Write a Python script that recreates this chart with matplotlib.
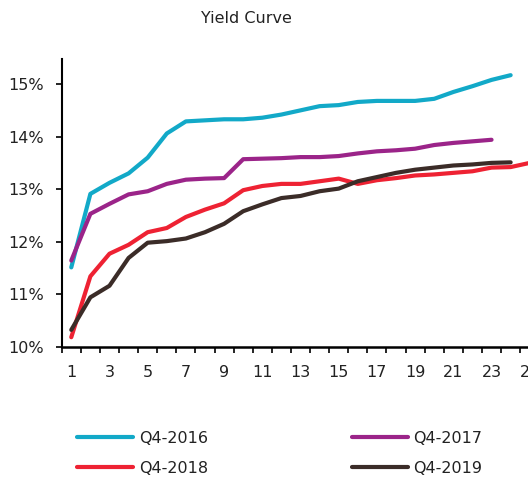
import matplotlib
import matplotlib.pyplot as plt
from matplotlib.ticker import FixedLocator, FuncFormatter

matplotlib.use("Agg")

# values (percent)
q4_2016 = [11.51, 12.91, 13.12, 13.30, 13.60, 14.06, 14.29, 14.31, 14.33, 14.33,
           14.36, 14.42, 14.50, 14.58, 14.60, 14.66, 14.68, 14.68, 14.68, 14.72,
           14.85, 14.96, 15.08, 15.17]
q4_2017 = [11.64, 12.53, 12.72, 12.90, 12.96, 13.10, 13.18, 13.20, 13.21, 13.57,
           13.58, 13.59, 13.61, 13.61, 13.63, 13.68, 13.72, 13.74, 13.77, 13.84,
           13.88, 13.91, 13.94]
q4_2018 = [10.18, 11.34, 11.77, 11.94, 12.18, 12.26, 12.47, 12.61, 12.73, 12.98,
           13.06, 13.10, 13.10, 13.15, 13.20, 13.10, 13.17, 13.21, 13.26, 13.28,
           13.31, 13.34, 13.41, 13.42, 13.50]
q4_2019 = [10.32, 10.94, 11.16, 11.69, 11.98, 12.01, 12.06, 12.18, 12.34, 12.58,
           12.71, 12.83, 12.87, 12.96, 13.01, 13.15, 13.23, 13.31, 13.37, 13.41,
           13.45, 13.47, 13.50, 13.51]

series = [
    ("Q4-2016", q4_2016, "#12A9C8"),
    ("Q4-2017", q4_2017, "#9B2489"),
    ("Q4-2018", q4_2018, "#EE2233"),
    ("Q4-2019", q4_2019, "#3B2C28"),
]

plt.rcParams["font.family"] = ["DejaVu Sans"]
plt.rcParams["font.size"] = 11

fig = plt.figure(figsize=(5.28, 4.78), dpi=100)
# axes runs past the right edge of the figure, like the cropped original
ax = fig.add_axes([0.1169, 0.2747, 0.9045, 0.601])

lines = {}
for name, vals, color in series:
    x = list(range(1, len(vals) + 1))
    (ln,) = ax.plot(x, vals, color=color, lw=3, solid_capstyle="round",
                    solid_joinstyle="round", label=name)
    lines[name] = ln

ax.set_xlim(0.5, 25.5)
ax.set_ylim(10, 15.47)

ax.xaxis.set_major_locator(FixedLocator(list(range(1, 26, 2))))
ax.xaxis.set_minor_locator(FixedLocator([k + 0.5 for k in range(0, 26)]))
ax.tick_params(axis="x", which="major", length=0, pad=13, labelsize=11.5,
               colors="#222222")
ax.tick_params(axis="x", which="minor", length=4, width=1.2, direction="out")

ax.set_yticks([10, 11, 12, 13, 14, 15])
ax.yaxis.set_major_formatter(FuncFormatter(lambda v, _: f"{v:.0f}%"))
ax.tick_params(axis="y", length=4, width=1.2, pad=9, labelsize=11.5,
               colors="#222222")
ax.tick_params(axis="y", colors="black", labelcolor="#222222")

for side in ("top", "right"):
    ax.spines[side].set_visible(False)
ax.spines["left"].set_linewidth(1.5)
ax.spines["bottom"].set_linewidth(1.8)

fig.text(0.467, 0.962, "Yield Curve", ha="center", va="center", fontsize=11.5,
         color="#222222")

order = ["Q4-2016", "Q4-2018", "Q4-2017", "Q4-2019"]
fig.legend([lines[n] for n in order], order, loc="center",
           bbox_to_anchor=(0.53, 0.052), ncol=2, frameon=False,
           handlelength=3.5, handletextpad=0.35, columnspacing=9.0,
           labelspacing=0.95, fontsize=11.5, labelcolor="#222222")

fig.savefig("out.png", dpi=100)
plt.close(fig)
